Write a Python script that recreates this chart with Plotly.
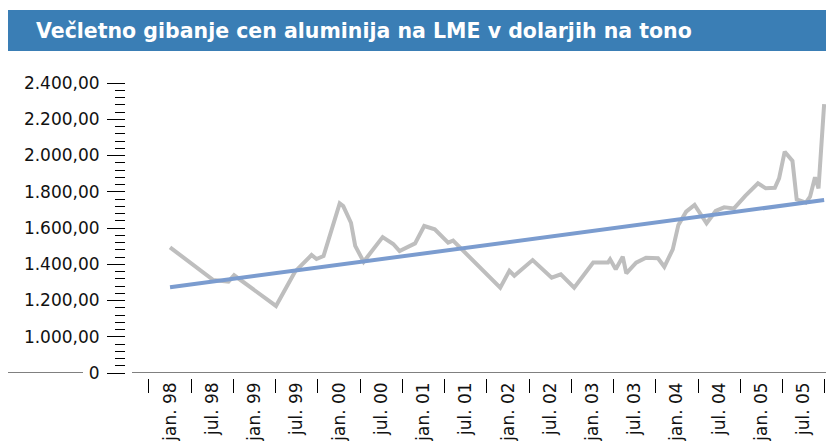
import plotly.graph_objects as go

# ---- data (x = months after Jan 1998) ----
price_x = [0.0, 6.15, 8.3, 9.1, 15.05, 17.75, 20.1, 20.8, 21.8, 24.1, 24.6, 25.7, 26.3, 27.5,
           30.2, 31.7, 32.6, 34.8, 36.1, 37.6, 39.5, 40.2, 46.9, 48.2, 48.9, 51.5, 54.2, 55.5,
           57.4, 60.1, 61.8, 62.2, 62.5, 63.3, 64.3, 64.8, 66.2, 67.6, 69.3, 70.2, 71.4, 72.2,
           73.3, 74.5, 76.2, 77.5, 78.7, 80.1, 81.7, 83.5, 84.6, 85.9, 86.5, 87.3, 88.4, 89.0,
           90.3, 90.9, 91.6, 92.1, 92.9]
price_y = [1493, 1313, 1304, 1339, 1170, 1359, 1451, 1429, 1445, 1736, 1721, 1629, 1501, 1414,
           1550, 1512, 1473, 1515, 1611, 1593, 1519, 1530, 1271, 1364, 1337, 1423, 1326, 1344,
           1271, 1409, 1409, 1409, 1427, 1372, 1442, 1350, 1409, 1436, 1433, 1386, 1482, 1617,
           1690, 1727, 1626, 1694, 1714, 1708, 1777, 1847, 1819, 1822, 1874, 2021, 1970, 1758,
           1740, 1773, 1880, 1819, 2284]

trend_x = [0.0, 92.9]
trend_y = [1273, 1754]

label_pos = [0, 6, 12, 18, 24, 30, 36, 42, 48, 54, 60, 66, 72, 78, 84, 90]
label_text = ["jan. 98", "jul. 98", "jan. 99", "jul. 99", "jan. 00", "jul. 00", "jan. 01", "jul. 01",
              "jan. 02", "jul. 02", "jan. 03", "jul. 03", "jan. 04", "jul. 04", "jan. 05", "jul. 05"]
boundary_pos = [-3, 3, 9, 15, 21, 27, 33, 39, 45, 51, 57, 63, 69, 75, 81, 87, 93]

y_tickvals = [800, 1000, 1200, 1400, 1600, 1800, 2000, 2200, 2400]
y_ticktext = ["0", "1.000,00", "1.200,00", "1.400,00", "1.600,00", "1.800,00", "2.000,00",
              "2.200,00", "2.400,00"]

title_text = "Večletno gibanje cen aluminija na LME v dolarjih na tono"

# ---- layout geometry (figure pixels; page has an 8px body offset) ----
OFF = 8
W, H = 834 - OFF, 444 - OFF
ML, MR, MT, MB = 125 - OFF, 0, 83 - OFF, 444 - 378
PW = W - ML - MR
PH = H - MT - MB


def px_x(p):  # page pixel -> paper x
    return (p - OFF - ML) / PW


def px_y(p):  # page pixel -> paper y
    return 1 + (MT - (p - OFF)) / PH


fig = go.Figure()
fig.add_trace(go.Scatter(x=price_x, y=price_y, mode="lines",
                         line=dict(color="#BEBEBE", width=4), hoverinfo="skip"))
fig.add_trace(go.Scatter(x=trend_x, y=trend_y, mode="lines",
                         line=dict(color="#7B9CCF", width=4), hoverinfo="skip"))

tick_font = dict(family="DejaVu Sans, Verdana, sans-serif", size=17, color="#111111")

fig.update_layout(
    width=W, height=H,
    margin=dict(l=ML, r=MR, t=MT, b=MB, pad=0, autoexpand=False),
    paper_bgcolor="white", plot_bgcolor="white",
    showlegend=False,
    xaxis=dict(
        domain=[px_x(132), 1], range=[-5.4, 94.3],
        anchor="free", position=0,
        showline=False, showgrid=False, zeroline=False,
        tickmode="array", tickvals=label_pos, ticktext=label_text,
        ticks="", tickangle=-90, tickfont=tick_font, automargin=False,
        minor=dict(tickmode="array", tickvals=boundary_pos, ticks="outside",
                   ticklen=14, tickcolor="black", tickwidth=1, showgrid=False),
    ),
    yaxis=dict(
        domain=[5 / PH, 1], range=[800, 2400],
        anchor="free", position=0,
        showline=False, showgrid=False, zeroline=False,
        tickmode="array", tickvals=y_tickvals, ticktext=y_ticktext,
        ticks="outside", ticklen=18, tickcolor="black", tickwidth=1,
        tickfont=tick_font, ticklabelstandoff=4, automargin=False,
        minor=dict(tick0=800, dtick=40, ticks="outside", ticklen=10,
                   tickcolor="black", tickwidth=1, showgrid=False),
    ),
    shapes=[
        dict(type="rect", xref="paper", yref="paper",
             x0=px_x(4), x1=px_x(834), y0=px_y(51), y1=px_y(10),
             fillcolor="#3A7EB5", line=dict(width=0), layer="below"),
        dict(type="line", xref="x domain", yref="y", x0=0, x1=1, y0=800, y1=800,
             line=dict(color="black", width=1)),
        dict(type="line", xref="paper", yref="y", x0=px_x(5), x1=px_x(83), y0=800, y1=800,
             line=dict(color="black", width=1)),
    ],
    annotations=[
        dict(text="<b>" + title_text + "</b>", xref="paper", yref="paper",
             x=px_x(34), y=px_y(31), xanchor="left", yanchor="middle", showarrow=False,
             font=dict(family="DejaVu Sans, sans-serif", size=20.5, color="white")),
    ],
)

fig.write_html("out.html")
